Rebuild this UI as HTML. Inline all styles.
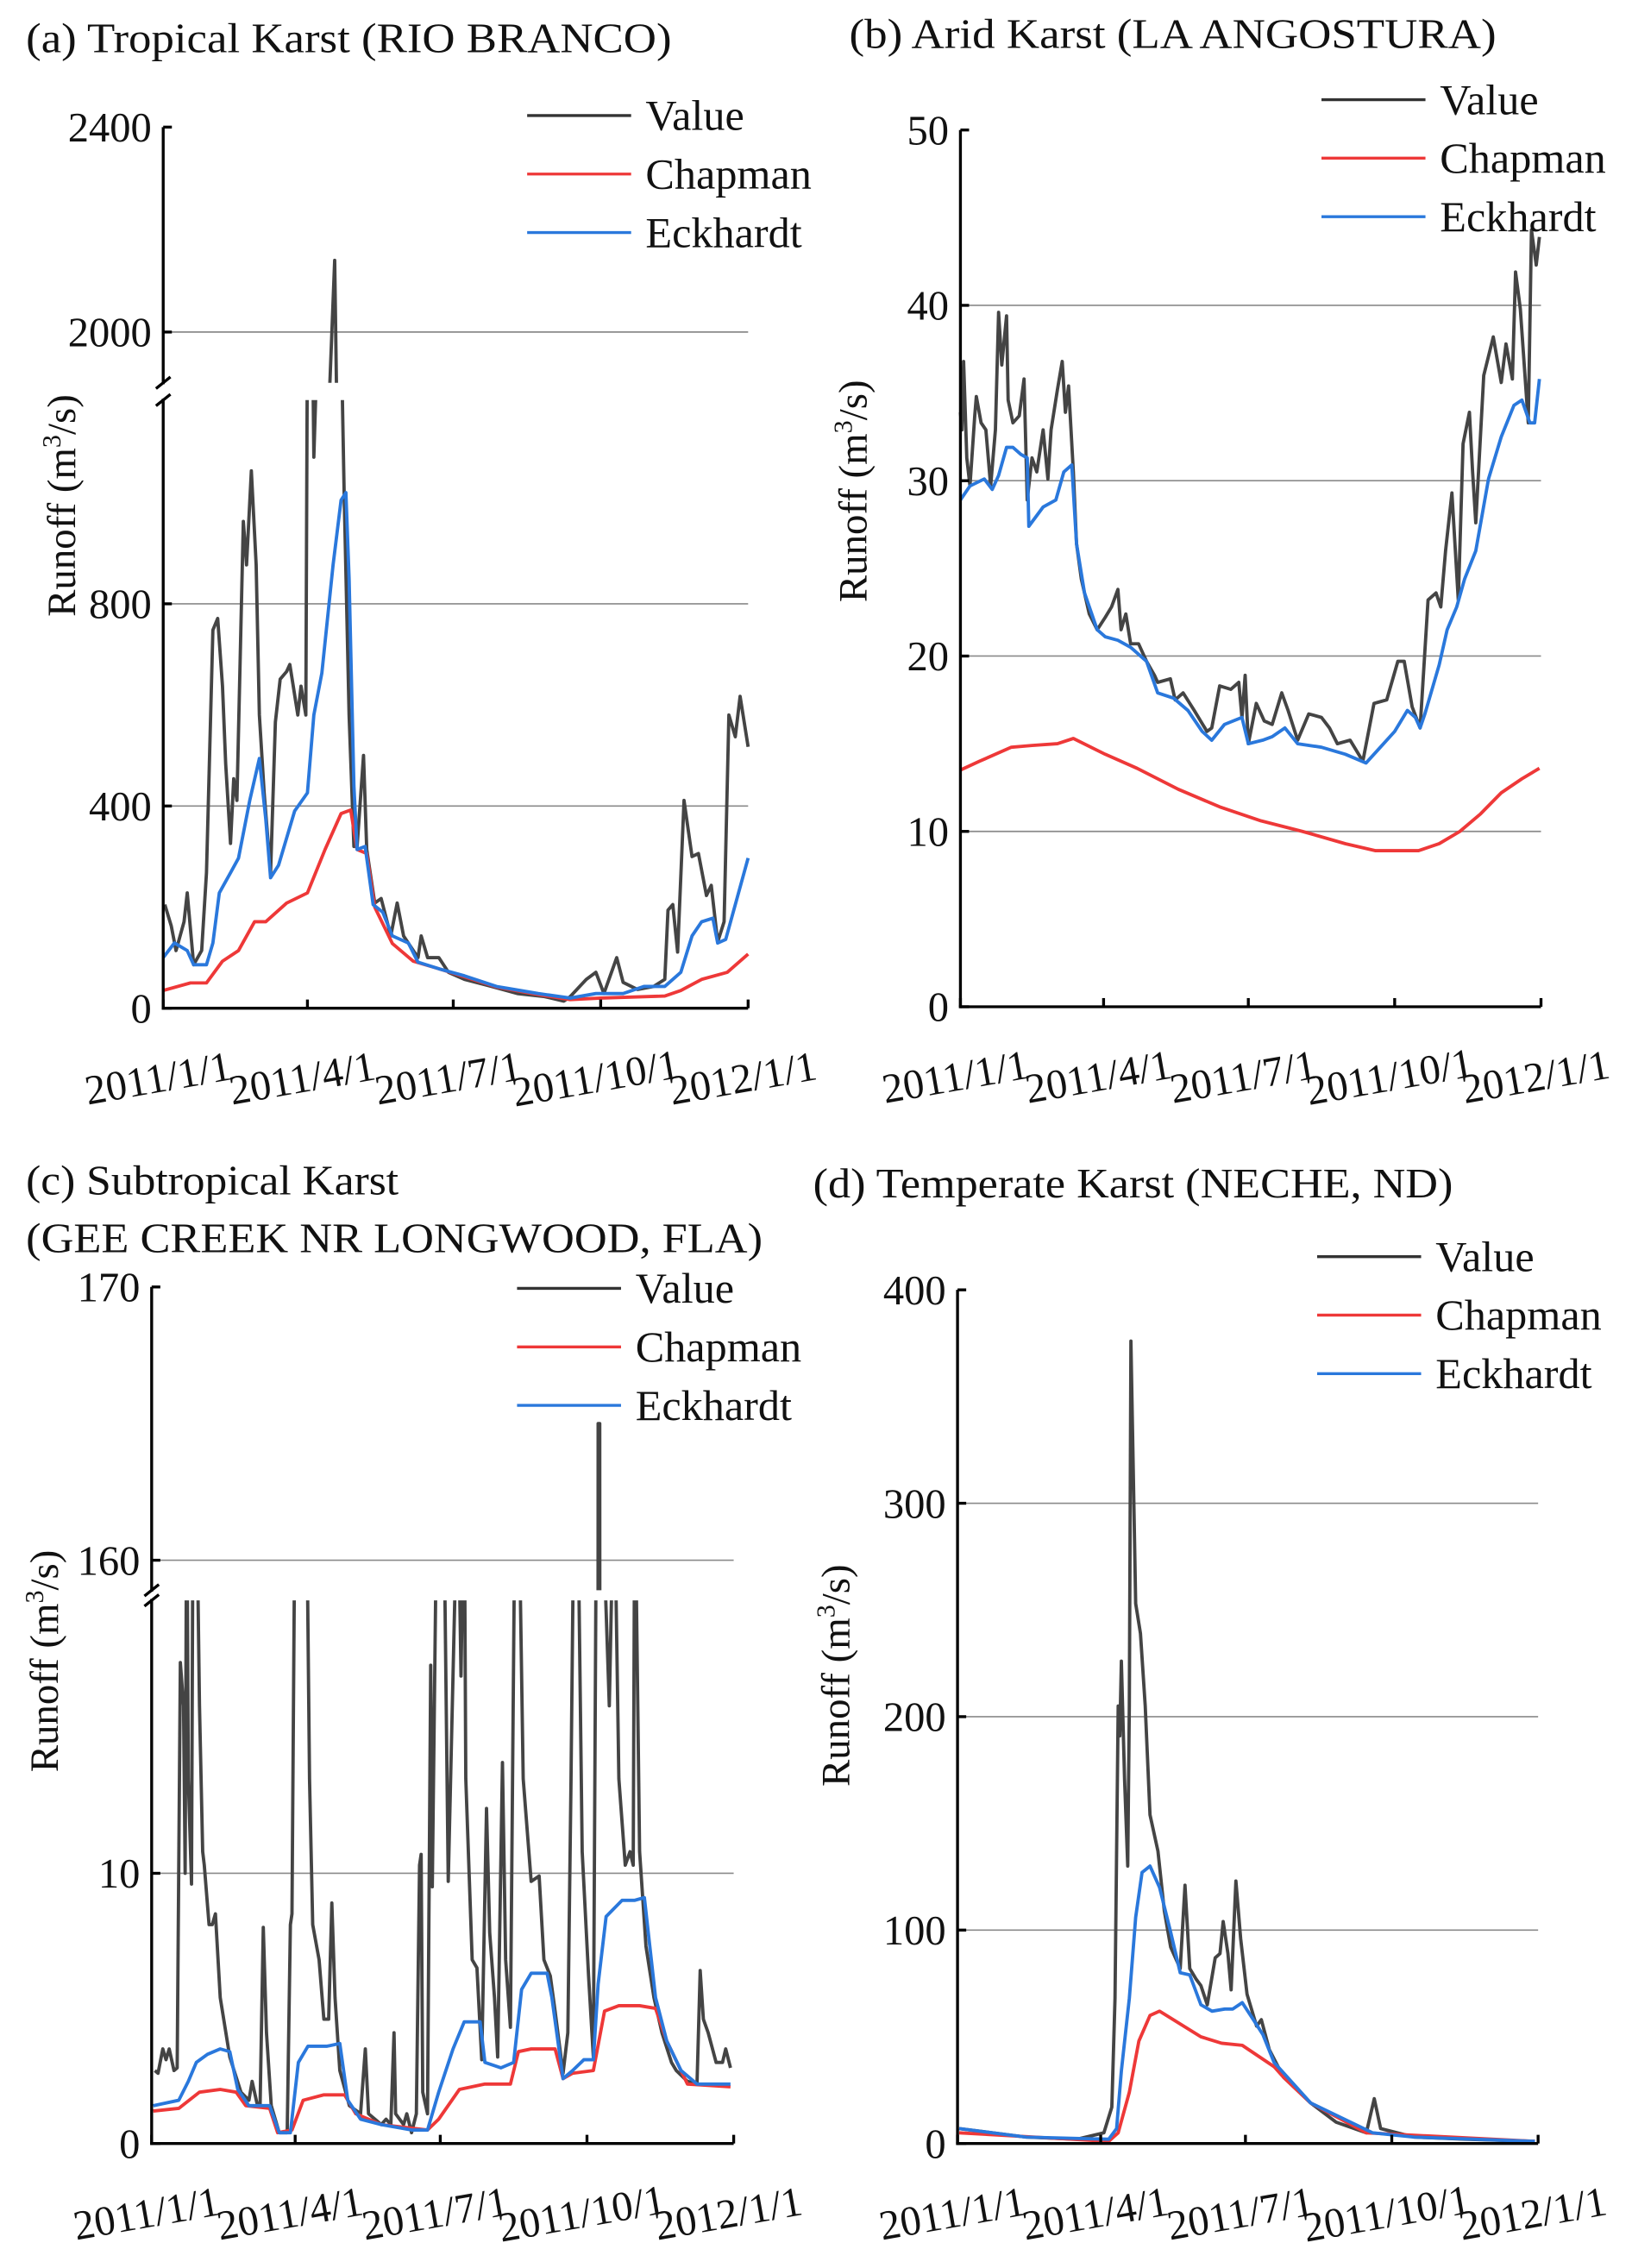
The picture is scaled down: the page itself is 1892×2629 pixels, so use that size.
<!DOCTYPE html>
<html><head><meta charset="utf-8">
<style>
html,body{margin:0;padding:0;background:#fff;width:1892px;height:2629px;overflow:hidden;}
svg{display:block;}
text{font-family:"Liberation Serif","Times New Roman",serif;fill:#111;}
</style></head>
<body>
<svg id="fig" xmlns="http://www.w3.org/2000/svg" width="1892" height="2629" viewBox="0 0 1130 1570.2" font-family="Liberation Serif, serif"></svg>
<script>
// ---------- Panel (a) RIO BRANCO ----------
const aValueDays=[1,5,8,13,15,17,19,24,27,31,34,37,39,42,44,46,50,52,55,58,60,63,67,70,73,77,79,84,86,89,90,92,94,97,100,104,107,109,112,113,116,119,121,125,127,132,136,142,146,150,159,161,165,172,178,188,205,221,238,250,254,264,270,275,283,287,296,306,313,315,318,321,325,330,334,339,342,346,350,353,357,360,365];
const aValue=[205,163,114,171,228,157,86,114,268,748,771,637,483,326,454,411,963,877,1063,877,580,426,268,566,651,666,680,580,637,580,1350,1700,1090,1400,1600,1900,2140,1700,1174,1005,580,320,320,500,314,208,217,143,208,143,100,143,100,100,71,57,43,29,23,14,23,57,71,29,100,51,37,43,57,194,205,111,411,300,306,223,243,131,171,580,537,617,517];
const aEckDays=[0,7,15,19,27,31,35,42,47,54,60,64,67,72,82,90,94,99,106,111,114,116,119,121,126,131,137,143,153,159,172,188,208,234,254,270,287,300,313,323,330,336,343,346,351,365];
const aEck=[100,129,114,86,86,129,228,268,297,411,494,374,258,283,390,426,580,663,877,1005,1020,850,440,314,320,205,190,143,129,91,78,64,43,29,20,29,29,43,43,71,143,171,178,129,136,297];
const aChapDays=[0,17,27,37,47,57,64,77,90,101,111,117,121,127,132,143,156,172,188,208,234,254,273,313,323,336,352,365];
const aChap=[35,50,50,93,114,171,171,208,228,314,385,392,314,306,200,128,93,78,62,42,27,17,20,24,35,57,71,107];
const aYTicks=[0,400,800,2000,2400];
const aGrid=[400,800,2000];

// ---------- Panel (b) LA ANGOSTURA ----------
const bValueDays=[0,1,2,4,6,9,10,13,16,19,22,24,26,29,30,33,37,40,42,45,48,52,55,57,61,64,66,68,71,73,76,81,86,91,95,99,101,104,107,112,117,122,124,132,135,140,147,155,158,163,170,175,177,179,181,186,191,196,202,206,212,219,227,232,237,245,253,260,268,275,279,284,289,294,299,302,305,309,313,316,320,322,324,329,335,340,343,347,349,352,357,359,362,364];
const bValue=[33.9,32.9,36.8,31.3,29.7,33.7,34.8,33.3,32.9,29.7,32.9,39.6,36.6,39.4,34.6,33.3,33.7,35.8,28.9,31.3,30.5,32.9,30.1,32.9,35.2,36.8,33.9,35.4,30.5,26.4,24.4,22.4,21.5,22.2,22.8,23.8,21.5,22.4,20.7,20.7,19.7,18.9,18.5,18.7,17.5,17.9,16.9,15.7,15.9,18.3,18.1,18.5,16.5,18.9,15.0,17.3,16.3,16.1,17.9,16.9,15.2,16.7,16.5,15.9,15.0,15.2,14.0,17.3,17.5,19.7,19.7,17.1,15.9,23.2,23.6,22.8,26.0,29.3,23.2,32.1,33.9,30.5,27.6,36.0,38.2,35.6,37.8,35.8,41.9,39.8,33.3,44.3,42.3,43.9];
const bEckDays=[0,6,15,20,24,29,33,38,42,43,52,60,65,70,73,78,86,91,99,107,117,124,134,143,152,158,166,177,181,190,196,204,212,227,242,255,264,273,281,286,289,292,301,306,312,317,324,332,340,348,353,358,361,364];
const bEck=[28.9,29.7,30.1,29.5,30.3,31.9,31.9,31.5,31.3,27.4,28.5,28.9,30.5,30.9,26.4,23.6,21.5,21.1,20.9,20.5,19.7,17.9,17.6,16.9,15.7,15.2,16.1,16.5,15.0,15.2,15.4,15.9,15.0,14.8,14.4,13.9,14.8,15.7,16.9,16.5,15.9,16.7,19.5,21.5,22.8,24.4,26.0,30.1,32.5,34.3,34.6,33.3,33.3,35.8];
const bChapDays=[0,12,32,45,61,71,91,111,137,163,189,215,242,261,288,301,314,327,340,353,364];
const bChap=[13.5,14.0,14.8,14.9,15.0,15.3,14.4,13.6,12.4,11.4,10.6,10.0,9.3,8.9,8.9,9.3,10.0,11.0,12.2,13.0,13.6];
const bYTicks=[0,10,20,30,40,50];
const bGrid=[10,20,30,40];

// ---------- Panel (c) GEE CREEK ----------
const cValueDays=[2,4,7,9,11,14,16,18,20,21,22,23,25,26,28,30,32,33,36,38,40,43,49,56,61,63,66,68,70,72,75,80,85,87,88,90,93,97,99,101,105,108,111,113,115,118,124,131,134,136,144,147,150,152,153,158,160,163,166,168,169,170,173,175,176,179,181,183,186,192,194,196,197,201,204,207,210,212,215,217,220,222,225,228,230,233,238,243,246,250,253,258,261,263,265,267,270,274,277,279,280,281,282,287,290,293,297,300,302,303,306,310,315,320,326,329,336,342,344,346,349,354,358,360,363];
const cValue=[2.7,2.6,3.5,3.1,3.5,2.7,2.8,17.8,16.2,10,25,13.5,9.6,25,25,16.2,10.8,10.3,8.1,8.1,8.5,5.4,3.2,1.9,1.6,2.3,1.5,1.4,8.0,4.1,1.4,0.4,0.4,8.1,8.5,25,25,25,13.5,8.1,6.8,4.6,4.6,8.9,5.4,2.7,1.4,1.1,3.5,1.1,0.7,0.9,0.7,4.1,1.1,0.7,1.1,0.4,1.1,10.3,10.7,1.9,1.1,17.7,9.5,25,25,25,9.7,25,17.3,25,13.5,6.8,6.5,3.1,12.4,7.8,5.4,3.2,14.1,6.8,4.3,25,25,13.5,9.7,9.9,6.8,6.2,4.9,2.6,4.1,13.5,25,25,10.8,6.2,3.2,25,165,165,25,16.2,25,13.5,10.3,10.8,10.3,25,10.8,7.3,5.4,4.1,3.0,2.7,2.3,2.2,6.4,4.6,4.1,3.0,3.0,3.5,2.8];
const cEckDays=[1,17,23,28,35,43,49,54,61,74,80,87,92,98,110,118,123,131,144,163,173,180,189,196,206,209,219,227,232,238,248,251,258,264,271,277,280,285,295,303,309,316,323,332,342,363];
const cEck=[1.4,1.6,2.3,3.0,3.3,3.5,3.4,2.0,1.4,1.4,0.4,0.4,3.0,3.6,3.6,3.7,1.6,0.9,0.7,0.5,0.5,1.9,3.5,4.5,4.5,3.0,2.8,3.0,5.7,6.3,6.3,5.4,2.4,2.7,3.1,3.1,5.9,8.4,9.0,9.0,9.1,5.4,3.8,2.7,2.2,2.2];
const cChapDays=[1,17,30,43,53,59,74,79,88,95,108,121,128,144,173,180,193,209,225,230,238,253,258,264,277,284,293,306,316,323,336,363];
const cChap=[1.2,1.3,1.9,2.0,1.9,1.4,1.3,0.4,0.5,1.6,1.8,1.8,1.1,0.7,0.5,0.9,2.0,2.2,2.2,3.4,3.5,3.5,2.4,2.6,2.7,4.9,5.1,5.1,5.0,3.8,2.2,2.1];
const cYTicks=[0,10,160,170];
const cGrid=[10,160];

// ---------- Panel (d) NECHE ----------
const dValueDays=[1,43,75,92,97,99,101,102,103,105,107,108,109,110,112,115,118,121,126,130,134,140,143,146,150,153,157,162,165,167,170,172,175,178,182,188,191,196,205,222,238,257,262,266,287,319,363];
const dValue=[7,3,2,5,17,68,205,191,226,171,130,205,376,335,253,239,205,154,137,109,92,82,121,82,77,74,65,87,89,104,89,72,123,96,70,55,58,44,31,19,10,5,21,7,3,2,1];
const dEckDays=[1,43,95,100,103,108,112,116,121,127,134,140,146,153,160,168,173,179,186,192,199,222,261,287,363];
const dEck=[7,3,2,7,34,68,106,127,130,120,99,80,79,65,62,63,63,66,58,51,38,19,5,3,1];
const dChapDays=[1,95,101,108,114,121,127,140,153,166,179,189,199,205,222,257,363];
const dChap=[5,1,5,24,48,60,62,56,50,47,46,41,36,31,19,5,1];
const dYTicks=[0,100,200,300,400];
const dGrid=[100,200,300];

const dateTicks=[0,90,181,273,365];
const dateLabels=["2011/1/1","2011/4/1","2011/7/1","2011/10/1","2012/1/1"];
const seriesNames=["Value","Chapman","Eckhardt"];

const NS="http://www.w3.org/2000/svg";
const svg=document.getElementById('fig');
const COLORS={Value:"#444444",Chapman:"#ee3838",Eckhardt:"#2a78dc"};
let clipId=0;
function mk(tag,attrs,parent){const e=document.createElementNS(NS,tag);for(const k in attrs)e.setAttribute(k,attrs[k]);(parent||svg).appendChild(e);return e;}

function drawPanel(p){
  const g=mk('g',{});
  
  
  p.titles.forEach((t,i)=>{
    const tt=mk('text',{x:p.titleX,y:p.titleY+i*40,'font-size':29,textLength:t[1],lengthAdjust:'spacingAndGlyphs'},g);
    tt.textContent=t[0];
    
    
  });
  const xs=d=>p.x0+(d/365)*(p.x1-p.x0);
  const segY=(seg,v)=>seg.yLo+(v-seg.vLo)*(seg.yHi-seg.yLo)/(seg.vHi-seg.vLo);
  const yOf=v=>{for(const s of p.segs){if(v>=s.vLo&&v<=s.vHi+1e-9)return segY(s,v);}return null;};
  p.grid.forEach(v=>{
    const y=yOf(v);
    const l=mk('line',{x1:p.x0,x2:p.x1,y1:y,y2:y,stroke:'#8a8a8a','stroke-width':1},g);
    
    
  });
  p.series.forEach(s=>{
    p.segs.forEach(seg=>{
      const id='clip'+(clipId++);
      const cp=mk('clipPath',{id:id},g);
      mk('rect',{x:p.x0-2,y:seg.yHi,width:p.x1-p.x0+6,height:seg.yLo-seg.yHi},cp);
      const pts=s.days.map((d,i)=>xs(d).toFixed(2)+','+segY(seg,s.vals[i]).toFixed(2)).join(' ');
      const pl=mk('polyline',{points:pts,fill:'none',stroke:COLORS[s.name],'stroke-width':2.3,'stroke-linejoin':'round','clip-path':'url(#'+id+')'},g);
      
      
    });
  });
  const topY=p.segs[p.segs.length-1].yHi;
  const ax=mk('line',{x1:p.x0,x2:p.x0,y1:topY,y2:p.segs[0].yLo+1,stroke:'#000','stroke-width':2},g);
  
  
  const bx=mk('line',{x1:p.x0-1,x2:p.x1,y1:p.segs[0].yLo,y2:p.segs[0].yLo,stroke:'#000','stroke-width':2},g);
  
  
  if(p.segs.length>1){
    const yb1=p.segs[1].yLo, yb2=p.segs[0].yHi;
    mk('rect',{x:p.x0-3,y:yb1+1,width:6,height:yb2-yb1-2,fill:'#fff'},g);
    [yb1,yb2].forEach(y=>{
      const bm=mk('line',{x1:p.x0-5,y1:y+4,x2:p.x0+5,y2:y-4,stroke:'#000','stroke-width':2},g);
      
      
    });
  }
  p.yticks.forEach(v=>{
    const y=yOf(v);
    mk('line',{x1:p.x0,x2:p.x0+6,y1:y,y2:y,stroke:'#000','stroke-width':2},g);
    const t=mk('text',{x:p.x0-8,y:y+10,'font-size':29,'text-anchor':'end'},g);
    t.textContent=v;
    
    
  });
  dateTicks.forEach((d,i)=>{
    const x=xs(d), y=p.segs[0].yLo;
    mk('line',{x1:x,x2:x,y1:y,y2:y-6,stroke:'#000','stroke-width':2},g);
    const t=mk('text',{x:0,y:0,'font-size':29,'text-anchor':'middle',transform:'translate('+(x-2)+','+(y+58)+') rotate(-10)'},g);
    t.textContent=dateLabels[i];
    
    
  });
  const yl=mk('text',{x:0,y:0,'font-size':28,'text-anchor':'middle',transform:'translate('+p.ylx+','+p.yly+') rotate(-90)'},g);
  yl.innerHTML='Runoff (m<tspan baseline-shift="super" font-size="18">3</tspan>/s)';
  
  
  seriesNames.forEach((n,i)=>{
    const y=p.legY+i*40.5;
    const lg=mk('g',{},g);
    
    
    mk('line',{x1:p.legX,x2:p.legX+72,y1:y,y2:y,stroke:n==='Value'?'#333':COLORS[n],'stroke-width':2},lg);
    const t=mk('text',{x:p.legX+82,y:y+10,'font-size':30},lg);
    t.textContent=n;
  });
}

drawPanel({id:'panel-a-tropical',titles:[["(a) Tropical Karst (RIO BRANCO)",447]],titleX:18,titleY:36,
  x0:113,x1:518,
  segs:[{vLo:0,vHi:1203,yLo:698,yHi:277},{vLo:1901,vHi:2400,yLo:265,yHi:88}],
  grid:aGrid,yticks:aYTicks,ylx:52,yly:350,legX:365,legY:80,
  series:[{name:'Value',days:aValueDays,vals:aValue},{name:'Chapman',days:aChapDays,vals:aChap},{name:'Eckhardt',days:aEckDays,vals:aEck}]});

drawPanel({id:'panel-b-arid',titles:[["(b) Arid Karst (LA ANGOSTURA)",448]],titleX:588,titleY:33,
  x0:665,x1:1067,
  segs:[{vLo:0,vHi:50,yLo:697,yHi:90}],
  grid:bGrid,yticks:bYTicks,ylx:600,yly:340,legX:915,legY:69,
  series:[{name:'Value',days:bValueDays,vals:bValue},{name:'Chapman',days:bChapDays,vals:bChap},{name:'Eckhardt',days:bEckDays,vals:bEck}]});

drawPanel({id:'panel-c-subtropical',titles:[["(c) Subtropical Karst",258],["(GEE CREEK NR LONGWOOD, FLA)",510]],titleX:18,titleY:827,
  x0:105,x1:508,
  segs:[{vLo:0,vHi:20.1,yLo:1484,yHi:1108},{vLo:158.9,vHi:170,yLo:1101,yHi:891}],
  grid:cGrid,yticks:cYTicks,ylx:40,yly:1150,legX:358,legY:892,
  series:[{name:'Value',days:cValueDays,vals:cValue},{name:'Chapman',days:cChapDays,vals:cChap},{name:'Eckhardt',days:cEckDays,vals:cEck}]});

drawPanel({id:'panel-d-temperate',titles:[["(d) Temperate Karst (NECHE, ND)",443]],titleX:563,titleY:829,
  x0:663,x1:1065,
  segs:[{vLo:0,vHi:400,yLo:1484,yHi:893}],
  grid:dGrid,yticks:dYTicks,ylx:588,yly:1160,legX:912,legY:870,
  series:[{name:'Value',days:dValueDays,vals:dValue},{name:'Chapman',days:dChapDays,vals:dChap},{name:'Eckhardt',days:dEckDays,vals:dEck}]});
</script>
</body></html>
